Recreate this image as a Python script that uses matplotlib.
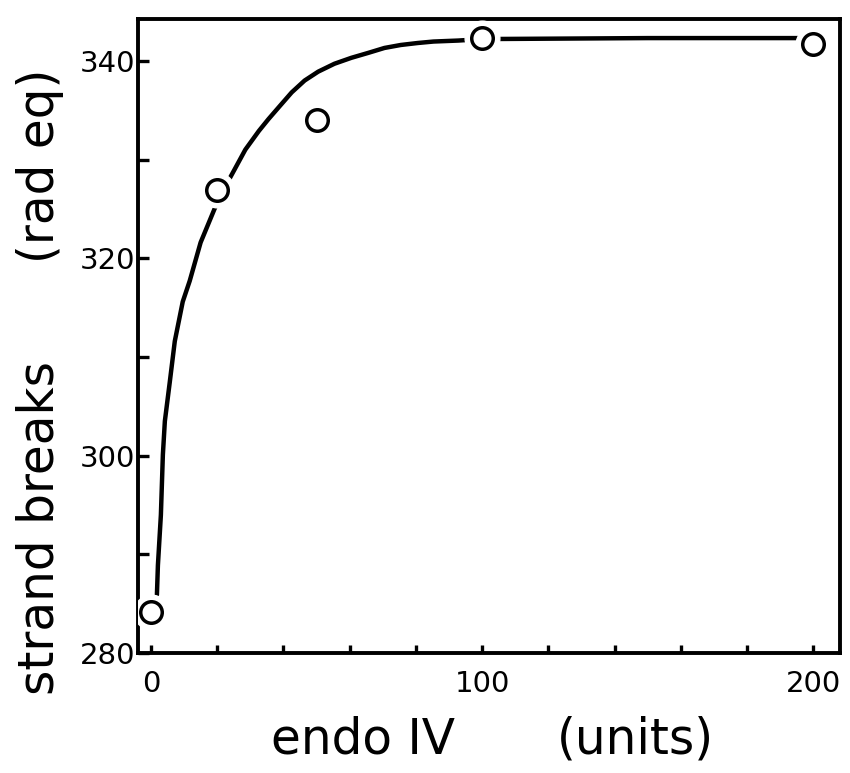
import matplotlib
matplotlib.use("Agg")
import matplotlib.pyplot as plt

# measured data points
endo_units = [0, 20, 50, 100, 200]
strand_breaks = [284.2, 326.9, 334.0, 342.3, 341.7]

# fitted curve
curve_x = [1.8, 2.1, 3.0, 3.6, 4.2, 5.7, 7.2, 9.6, 11.7, 15.0, 19.2, 22.0,
           25.1, 28.5, 32.6, 35.5, 38.6, 42.5, 46.4, 50.5, 55.4, 60.5, 65.6,
           70.5, 75.4, 80.5, 85.3, 92.8, 100.0, 150.0, 200.0]
curve_y = [285.9, 288.9, 294.0, 300.1, 303.5, 307.5, 311.6, 315.6, 317.7,
           321.6, 325.0, 327.0, 328.9, 331.0, 332.9, 334.1, 335.3, 336.8,
           338.0, 338.9, 339.7, 340.3, 340.8, 341.3, 341.6, 341.8, 341.95,
           342.05, 342.2, 342.3, 342.3]

x_major = [0, 100, 200]
x_minor = [20, 40, 60, 80, 120, 140, 160, 180]
y_major = [280, 300, 320, 340]
y_minor = [290, 310, 330]

plt.rcParams['font.family'] = ['DejaVu Sans']

fig = plt.figure(figsize=(8.5, 7.73), dpi=100)
ax = fig.add_axes([0.162, 0.155, 0.826, 0.820])

ax.plot(curve_x, curve_y, color='black', lw=3.2, solid_capstyle='round',
        solid_joinstyle='round', zorder=2)
# white halo around the open circles (gap in the curve)
ax.plot(endo_units, strand_breaks, 'o', ms=25, mfc='white', mec='white', zorder=3)
ax.plot(endo_units, strand_breaks, 'o', ms=15.5, mfc='white', mec='black',
        mew=2.5, zorder=4)

ax.set_xlim(-4, 208)
ax.set_ylim(280, 344.2)

ax.set_xticks(x_major)
ax.set_xticks(x_minor, minor=True)
ax.set_yticks(y_major)
ax.set_yticks(y_minor, minor=True)
ax.tick_params(axis='both', which='both', direction='in', width=2.4,
               labelsize=21)
ax.tick_params(axis='x', which='both', length=6, pad=12)
ax.tick_params(axis='y', which='both', length=8, pad=2)

for s in ax.spines.values():
    s.set_linewidth(2.8)

# axis titles (two parts each, with the wide gap of the original)
fig.text(0.427, 0.043, 'endo IV', fontsize=35, ha='center', va='center')
fig.text(0.747, 0.043, '(units)', fontsize=35, ha='center', va='center')
fig.text(0.047, 0.317, 'strand breaks', fontsize=35, rotation=90,
         ha='center', va='center')
fig.text(0.047, 0.785, '(rad eq)', fontsize=35, rotation=90,
         ha='center', va='center')

fig.savefig('out.png', dpi=100)
